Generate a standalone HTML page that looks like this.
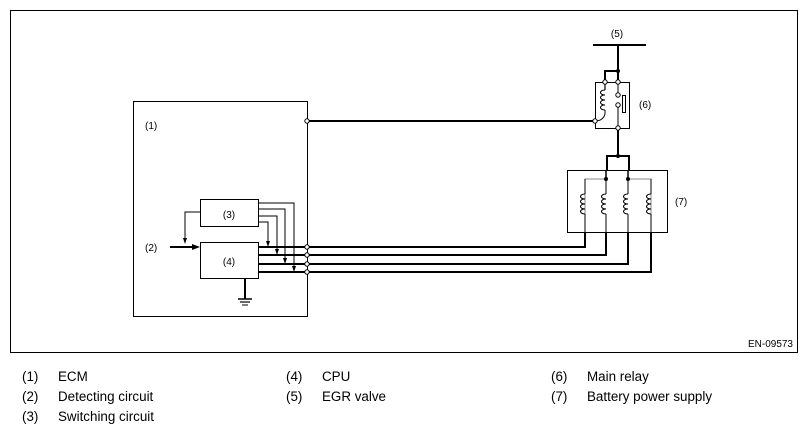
<!DOCTYPE html>
<html><head><style>
html,body{margin:0;padding:0;background:#fff;}
svg{display:block;font-family:"Liberation Sans",sans-serif;}
</style></head><body>
<svg width="808" height="433" viewBox="0 0 808 433" xmlns="http://www.w3.org/2000/svg">
<defs>
<g id="coil"><path d="M0,0 c-6,0 -6,5 0,5 c-6,0 -6,5 0,5 c-6,0 -6,5 0,5 c-6,0 -6,5 0,5" fill="none" stroke="#000" stroke-width="1.1"/></g>
</defs>
<rect x="10.5" y="10.5" width="787" height="342" fill="none" stroke="#000" stroke-width="1"/>
<text x="793" y="347" font-size="10" text-anchor="end">EN-09573</text>

<rect x="133.5" y="101.5" width="174" height="215" fill="none" stroke="#000" stroke-width="1"/>
<text x="145" y="129" font-size="10">(1)</text>
<rect x="200.5" y="199.5" width="58" height="27" fill="none" stroke="#000"/>
<text x="229" y="218" font-size="10" text-anchor="middle">(3)</text>
<rect x="200.5" y="242.5" width="58" height="36" fill="none" stroke="#000"/>
<text x="229" y="265" font-size="10" text-anchor="middle">(4)</text>
<text x="145" y="251" font-size="10">(2)</text>
<line x1="170" y1="247" x2="194" y2="247" stroke="#000" stroke-width="2"/>
<polygon points="200,247 192,244 192,250"/>
<polyline points="200,212 185,212 185,240" fill="none" stroke="#000"/>
<polygon points="185,244 183,238 187,238"/>
<g fill="none" stroke="#000" stroke-width="1">
<polyline points="258,203 294,203 294,268"/>
<polyline points="258,209 285,209 285,259"/>
<polyline points="258,216 277,216 277,251"/>
<polyline points="258,222 268,222 268,243"/>
</g>
<polygon points="268,247 266,241 270,241"/>
<polygon points="277,255 275,249 279,249"/>
<polygon points="285,264 283,258 287,258"/>
<polygon points="294,272 292,266 296,266"/>
<g fill="none" stroke="#000" stroke-width="2">
<polyline points="258,247 585,247 585,232"/>
<polyline points="258,255 606,255 606,232"/>
<polyline points="258,264 628,264 628,232"/>
<polyline points="258,272 651,272 651,232"/>
<line x1="307" y1="121" x2="595" y2="121"/>
</g>
<g fill="#fff" stroke="#000" stroke-width="1">
<circle cx="307" cy="247" r="2.2"/><circle cx="307" cy="255" r="2.2"/>
<circle cx="307" cy="264" r="2.2"/><circle cx="307" cy="272" r="2.2"/>
<circle cx="307" cy="121" r="2.2"/>
</g>
<line x1="245" y1="278" x2="245" y2="299" stroke="#000" stroke-width="2"/>
<line x1="238" y1="299" x2="252" y2="299" stroke="#000" stroke-width="1.5"/>
<line x1="240" y1="302" x2="250" y2="302" stroke="#000" stroke-width="1.2"/>
<line x1="242" y1="305" x2="248" y2="305" stroke="#000" stroke-width="1"/>

<text x="617" y="37" font-size="10" text-anchor="middle">(5)</text>
<line x1="593" y1="45" x2="646" y2="45" stroke="#000" stroke-width="2"/>
<g fill="none" stroke="#000" stroke-width="2">
<line x1="618" y1="45" x2="618" y2="82"/>
<polyline points="618,71 605,71 605,82"/>
<line x1="618" y1="128" x2="618" y2="156"/>
<polyline points="607,170 607,156 629,156 629,170"/>
</g>
<circle cx="618" cy="71" r="2"/>
<circle cx="618" cy="156" r="2"/>
<rect x="595.5" y="82.5" width="34" height="46" fill="none" stroke="#000"/>
<text x="639" y="108" font-size="10">(6)</text>
<path d="M605,82 L605,90" stroke="#000" fill="none" stroke-width="1.2"/>
<use href="#coil" x="605" y="90"/>
<path d="M605,110 L605,114 Q603,121 595,121" stroke="#000" fill="none"/>
<line x1="618" y1="82" x2="618" y2="95" stroke="#000"/>
<line x1="618" y1="105" x2="618" y2="128" stroke="#000"/>
<rect x="622.5" y="95.5" width="3" height="17" fill="#fff" stroke="#000"/>
<g fill="#fff" stroke="#000">
<circle cx="605" cy="82" r="2.2"/><circle cx="618" cy="82" r="2.2"/>
<circle cx="618" cy="95" r="2.2"/><circle cx="618" cy="105" r="2.2"/>
<circle cx="595" cy="121" r="2.2"/><circle cx="618" cy="128" r="2.2"/>
</g>
<rect x="567.5" y="170.5" width="100" height="62" fill="none" stroke="#000"/>
<text x="675" y="205" font-size="10">(7)</text>
<polyline points="585,232 585,179 606,179" fill="none" stroke="#888"/>
<polyline points="628,179 651,179 651,232" fill="none" stroke="#888"/>
<line x1="606" y1="170" x2="606" y2="179" stroke="#000" stroke-width="1.5"/>
<line x1="628" y1="170" x2="628" y2="179" stroke="#000" stroke-width="1.5"/>
<g stroke="#000">
<line x1="585" y1="179" x2="585" y2="194"/><line x1="585" y1="214" x2="585" y2="232"/>
<line x1="606" y1="179" x2="606" y2="194"/><line x1="606" y1="214" x2="606" y2="232"/>
<line x1="628" y1="179" x2="628" y2="194"/><line x1="628" y1="214" x2="628" y2="232"/>
<line x1="651" y1="179" x2="651" y2="194"/><line x1="651" y1="214" x2="651" y2="232"/>
</g>
<use href="#coil" x="585" y="194"/><use href="#coil" x="606" y="194"/>
<use href="#coil" x="628" y="194"/><use href="#coil" x="651" y="194"/>
<circle cx="606" cy="179" r="2"/><circle cx="628" cy="179" r="2"/>

<g font-size="13.4">
<text x="22" y="381">(1)</text><text x="58" y="381">ECM</text>
<text x="22" y="401">(2)</text><text x="58" y="401">Detecting circuit</text>
<text x="22" y="421">(3)</text><text x="58" y="421">Switching circuit</text>
<text x="286" y="381">(4)</text><text x="322" y="381">CPU</text>
<text x="286" y="401">(5)</text><text x="322" y="401">EGR valve</text>
<text x="551" y="381">(6)</text><text x="587" y="381">Main relay</text>
<text x="551" y="401">(7)</text><text x="587" y="401">Battery power supply</text>
</g>
</svg>
</body></html>
